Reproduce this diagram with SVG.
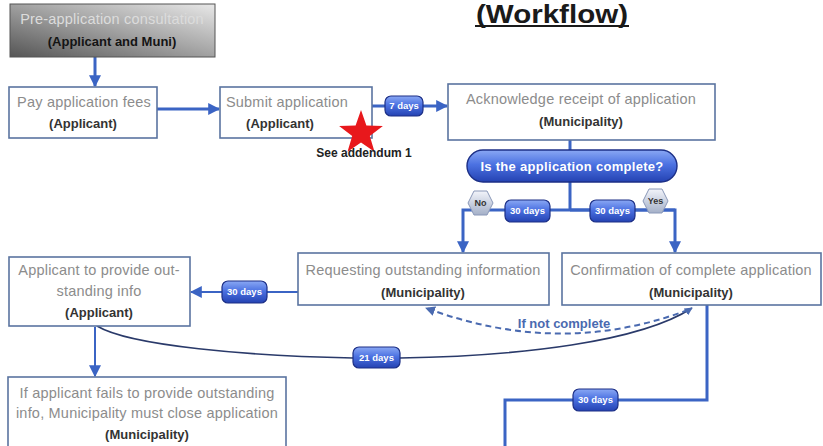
<svg xmlns="http://www.w3.org/2000/svg" width="823" height="446" viewBox="0 0 823 446">
<defs>
<linearGradient id="gPre" x1="1" y1="0" x2="0" y2="1">
<stop offset="0" stop-color="#e8e8e8"/><stop offset="0.45" stop-color="#a8a8a8"/><stop offset="1" stop-color="#555"/>
</linearGradient>
<linearGradient id="gBlue" x1="0" y1="0" x2="0" y2="1">
<stop offset="0" stop-color="#8aa8f4"/><stop offset="0.45" stop-color="#4c72e2"/><stop offset="1" stop-color="#2442b2"/>
</linearGradient>
<linearGradient id="gHex" x1="0" y1="0" x2="0" y2="1">
<stop offset="0" stop-color="#f2f4fa"/><stop offset="1" stop-color="#a4b0c8"/>
</linearGradient>
<marker id="ah" viewBox="0 0 10 10" refX="9" refY="5" markerWidth="4" markerHeight="4" orient="auto" markerUnits="strokeWidth">
<path d="M0,0 L10,5 L0,10 z" fill="#3b64c4"/>
</marker>
<marker id="ahs" viewBox="0 0 10 10" refX="9" refY="5" markerWidth="6" markerHeight="6" orient="auto" markerUnits="strokeWidth">
<path d="M0,0 L10,5 L0,10 z" fill="#3b64c4"/>
</marker>
<marker id="ahd" viewBox="0 0 10 10" refX="9" refY="5" markerWidth="5" markerHeight="5" orient="auto" markerUnits="strokeWidth">
<path d="M0,0 L10,5 L0,10 z" fill="#4a6ab0"/>
</marker>
</defs>
<style>
.box{fill:#fff;stroke:#5a74a0;stroke-width:1.6}
.t1{font-family:"Liberation Sans",Arial,sans-serif;font-size:14.5px;letter-spacing:0.2px;fill:#8c8c8c;text-anchor:middle}
.t2{font-family:"Liberation Sans",Arial,sans-serif;font-size:13px;font-weight:bold;fill:#333;text-anchor:middle}
.conn{fill:none;stroke:#3b64c4;stroke-width:3}
.thin{fill:none;stroke:#3b64c4;stroke-width:2}
.badge{fill:url(#gBlue);stroke:#1c2f86;stroke-width:1.2}
.bt{font-family:"Liberation Sans",Arial,sans-serif;font-size:9.5px;font-weight:bold;fill:#fff;text-anchor:middle}
.hex{fill:url(#gHex);stroke:#8a98b8;stroke-width:1}
.ht{font-family:"Liberation Sans",Arial,sans-serif;font-size:9px;font-weight:bold;fill:#333;text-anchor:middle}
</style>
<rect width="823" height="446" fill="#fff"/>

<g id="title">
<text x="552" y="23" font-family="Liberation Sans,Arial,sans-serif" font-size="26" font-weight="bold" fill="#1a1a1a" text-anchor="middle" textLength="152" lengthAdjust="spacingAndGlyphs">(Workflow)</text>
<line x1="475" y1="26" x2="629" y2="26" stroke="#1a1a1a" stroke-width="2"/>
</g>

<g id="connectors">
<line class="conn" x1="95" y1="57" x2="95" y2="86" marker-end="url(#ah)"/>
<line class="conn" x1="157" y1="109" x2="219" y2="109" marker-end="url(#ah)"/>
<line class="conn" x1="372" y1="106" x2="447" y2="106" marker-end="url(#ah)"/>
<line class="conn" x1="570" y1="140" x2="570" y2="150"/>
<polyline class="conn" points="570,182 570,210"/>
<polyline class="conn" points="675,210 463,210 463,252" marker-end="url(#ah)"/>
<polyline class="conn" points="570,210 675,210 675,252" marker-end="url(#ah)"/>
<line class="thin" x1="298" y1="292" x2="191" y2="292" marker-end="url(#ahs)"/>
<line class="thin" x1="95" y1="327" x2="95" y2="376" marker-end="url(#ahs)"/>
<path d="M97,326 C130,346 250,356 353,358" fill="none" stroke="#2a3a6a" stroke-width="1.6"/>
<path d="M400,358 C520,356 640,342 692,308" fill="none" stroke="#2a3a6a" stroke-width="1.6" marker-end="url(#ahd)"/>
<path d="M688,310 Q560,358 426,308" fill="none" stroke="#4a6ab0" stroke-width="2" stroke-dasharray="6,4" marker-end="url(#ahd)"/>
<polyline class="conn" points="707,305 707,400 505,400 505,446"/>
</g>

<g id="pre">
<rect x="10" y="4" width="205" height="53" fill="url(#gPre)" stroke="#555" stroke-width="1"/>
<text class="t1" x="112" y="24" style="fill:#dcdcdc">Pre-application consultation</text>
<text class="t2" x="112" y="46" style="fill:#141414">(Applicant and Muni)</text>
</g>

<g id="pay">
<rect class="box" x="9" y="87" width="148" height="51"/>
<text class="t1" x="84" y="107">Pay application fees</text>
<text class="t2" x="83" y="128">(Applicant)</text>
</g>

<g id="submit">
<rect class="box" x="220" y="87" width="152" height="51"/>
<text class="t1" x="287" y="107">Submit application</text>
<text class="t2" x="280" y="128">(Applicant)</text>
</g>

<g id="star">
<polygon points="361,110 366.4,125.6 382.9,126 369.8,136 374.5,151.8 361,142.4 347.5,151.8 352.2,136 339.1,126 355.6,125.6" fill="#e8181c"/>
<text x="364" y="157" font-family="Liberation Sans,Arial,sans-serif" font-size="12" font-weight="bold" fill="#222" text-anchor="middle">See addendum 1</text>
</g>

<g id="badge7">
<rect class="badge" x="385" y="96" width="38" height="20" rx="6"/>
<text class="bt" x="404" y="109">7 days</text>
</g>

<g id="ack">
<rect class="box" x="448" y="84" width="267" height="56"/>
<text class="t1" x="581" y="104">Acknowledge receipt of application</text>
<text class="t2" x="581" y="126">(Municipality)</text>
</g>

<g id="decision">
<rect x="467" y="150" width="210" height="32" rx="16" fill="url(#gBlue)" stroke="#1c2f86" stroke-width="1.4"/>
<text x="572" y="171" font-family="Liberation Sans,Arial,sans-serif" font-size="13" letter-spacing="0.3" font-weight="bold" fill="#fff" text-anchor="middle">Is the application complete?</text>
</g>

<g id="no">
<polygon class="hex" points="474,191 487,191 493,203 487,215 474,215 468,203"/>
<text class="ht" x="480.5" y="206">No</text>
</g>
<g id="badge30a">
<rect class="badge" x="505" y="200" width="45" height="22" rx="6"/>
<text class="bt" x="527.5" y="214">30 days</text>
</g>
<g id="badge30b">
<rect class="badge" x="590" y="200" width="45" height="22" rx="6"/>
<text class="bt" x="612.5" y="214">30 days</text>
</g>
<g id="yes">
<polygon class="hex" points="649,189 662,189 668,201 662,213 649,213 643,201"/>
<text class="ht" x="655.5" y="204">Yes</text>
</g>

<g id="request">
<rect class="box" x="298" y="253" width="251" height="52"/>
<text class="t1" x="423" y="275">Requesting outstanding information</text>
<text class="t2" x="423" y="297">(Municipality)</text>
</g>

<g id="confirm">
<rect class="box" x="562" y="253" width="259" height="52"/>
<text class="t1" x="691" y="275">Confirmation of complete application</text>
<text class="t2" x="691" y="297">(Municipality)</text>
</g>

<g id="applicant">
<rect class="box" x="9" y="257" width="181" height="69"/>
<text class="t1" x="99" y="275">Applicant to provide out-</text>
<text class="t1" x="99" y="296">standing info</text>
<text class="t2" x="99" y="317">(Applicant)</text>
</g>

<g id="badge30c">
<rect class="badge" x="222" y="281" width="45" height="22" rx="6"/>
<text class="bt" x="244.5" y="295">30 days</text>
</g>

<g id="badge21">
<rect class="badge" x="353" y="347" width="47" height="21" rx="6"/>
<text class="bt" x="376.5" y="361">21 days</text>
</g>

<g id="notcomplete">
<text x="564" y="328" font-family="Liberation Sans,Arial,sans-serif" font-size="13" font-weight="bold" fill="#4a6ab0" text-anchor="middle">If not complete</text>
</g>

<g id="fail">
<rect class="box" x="8" y="377" width="278" height="75"/>
<text class="t1" x="147" y="398">If applicant fails to provide outstanding</text>
<text class="t1" x="147" y="418">info, Municipality must close application</text>
<text class="t2" x="147" y="439">(Municipality)</text>
</g>

<g id="badge30d">
<rect class="badge" x="573" y="389" width="45" height="22" rx="6"/>
<text class="bt" x="595.5" y="403">30 days</text>
</g>
</svg>
